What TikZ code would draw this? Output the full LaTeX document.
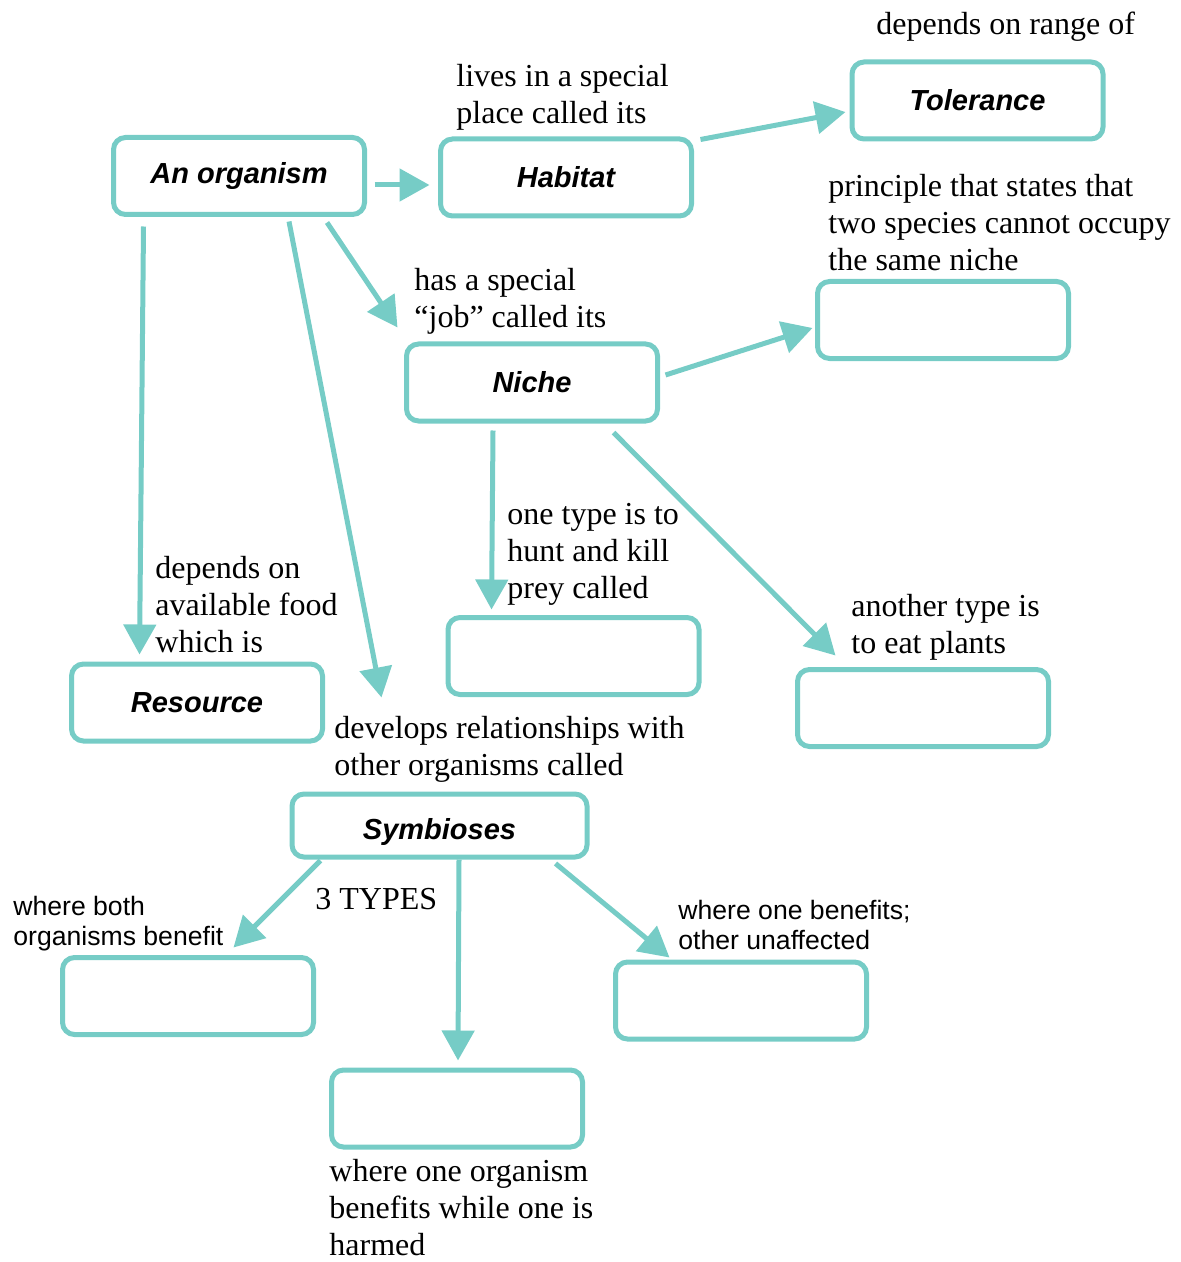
\documentclass[tikz,border=0pt]{standalone}
\usepackage{fontspec}
\setmainfont{Liberation Serif}
\newfontfamily\arialfont{Liberation Sans}
\usetikzlibrary{arrows.meta}
\usetikzlibrary{positioning}
\definecolor{mapteal}{RGB}{118,204,198}

\tikzset{
  conceptbox/.style={draw=mapteal, line width=2.5pt, rounded corners=6pt, fill=white,
    minimum width=125.5pt, minimum height=38.5pt, inner sep=0pt,
    font=\arialfont\bfseries\itshape\fontsize{14.5}{17}\selectfont},
  linktext/.style={anchor=base west, inner sep=0pt, align=left,
    font=\fontsize{16}{18.5}\selectfont},
  notetext/.style={anchor=base west, inner sep=0pt, align=left,
    font=\arialfont\fontsize{13.3}{15}\selectfont},
  link/.style={draw=mapteal, line width=2.5pt, -{Triangle[length=15pt,width=16pt]}}
}

\begin{document}
\begin{tikzpicture}[x=0.5pt,y=-0.5pt]
\useasboundingbox (0,0) rectangle (1181,1262);

% Concept boxes
\node [conceptbox] (organism) at (239,176) {An organism};
\node [conceptbox] (habitat) at (566,177.5) {Habitat};
\node [conceptbox] (tolerance) at (977.5,100.5) {Tolerance};
\node [conceptbox] (exclusion) at (943,320) {};
\node [conceptbox] (niche) at (532,382.5) {Niche};
\node [conceptbox] (predator) at (573.5,656) {};
\node [conceptbox] (herbivore) at (923,708) {};
\node [conceptbox] (resource) at (197,702.5) {Resource};
\node [conceptbox, minimum width=147.5pt, minimum height=31.5pt, text height=17.4pt] (symbioses) at (439.5,825.5) {Symbioses};
\node [conceptbox] (mutualism) at (188,996) {};
\node [conceptbox] (commensalism) at (741,1000.5) {};
\node [conceptbox] (parasitism) at (457,1108.5) {};

% Link texts (placed at the baseline of their last line)
\node [linktext] (tolText) at (876,35) {depends on range of};
\node [linktext] (habText) at (456,124) {lives in a special\\place called its};
\node [linktext] (exclText) at (828,271) {principle that states that\\two species cannot occupy\\the same niche};
\node [linktext] (nicheText) at (414,328) {has a special\\``job'' called its};
\node [linktext] (resText) at (155,652) {depends on\\available food\\which is};
\node [linktext] (predText) at (507,598) {one type is to\\hunt and kill\\prey called};
\node [linktext] (herbText) at (851,653) {another type is\\to eat plants};
\node [linktext] (symText) at (334,775) {develops relationships with\\other organisms called};
\node [linktext] (typesText) at (315,909) {3 TYPES};
\node [notetext] (mutText) at (13,945) {where both\\organisms benefit};
\node [notetext] (comText) at (678,949) {where one benefits;\\other unaffected};
\node [linktext] (parText) at (329,1255) {where one organism\\benefits while one is\\harmed};

% Links
\draw [link] ([xshift=3.75pt,yshift=-4.5pt]organism.east) -- ([xshift=-4.25pt,yshift=-3.75pt]habitat.west);
\draw [link] ([xshift=3.25pt,yshift=-1.5pt]habitat.north east) -- ([xshift=-2pt,yshift=-5.75pt]tolerance.west);
\draw [link] ([xshift=44pt,yshift=-2.75pt]organism.south) -- ([xshift=-3.25pt,yshift=7pt]niche.north west);
\draw [link] ([xshift=2.75pt,yshift=3.75pt]niche.east) -- ([xshift=-1.25pt,yshift=-4pt]exclusion.west);
\draw [link] ([xshift=16.25pt,yshift=-4.75pt]organism.south west) -- ([xshift=35.25pt,yshift=3.5pt]resource.north west);
\draw [link] ([xshift=25pt,yshift=-2.25pt]organism.south) -- ([xshift=46pt,yshift=47pt]symbioses.north west);
\draw [link] ([xshift=-19.5pt,yshift=-3.5pt]niche.south) -- ([xshift=23pt,yshift=2.75pt]predator.north west);
\draw [link] ([xshift=-23.25pt,yshift=-4.5pt]niche.south east) -- ([xshift=20.25pt,yshift=5.75pt]herbivore.north west);
\draw [link] ([xshift=15.5pt,yshift=-0.5pt]symbioses.south west) -- ([xshift=86.75pt,yshift=3.75pt]mutualism.north west);
\draw [link] ([xshift=9.75pt]symbioses.south) -- ([xshift=0.5pt,yshift=3.5pt]parasitism.north);
\draw [link] ([xshift=-17pt,yshift=-2pt]symbioses.south east) -- ([xshift=28.25pt,yshift=1pt]commensalism.north west);

\end{tikzpicture}
\end{document}
